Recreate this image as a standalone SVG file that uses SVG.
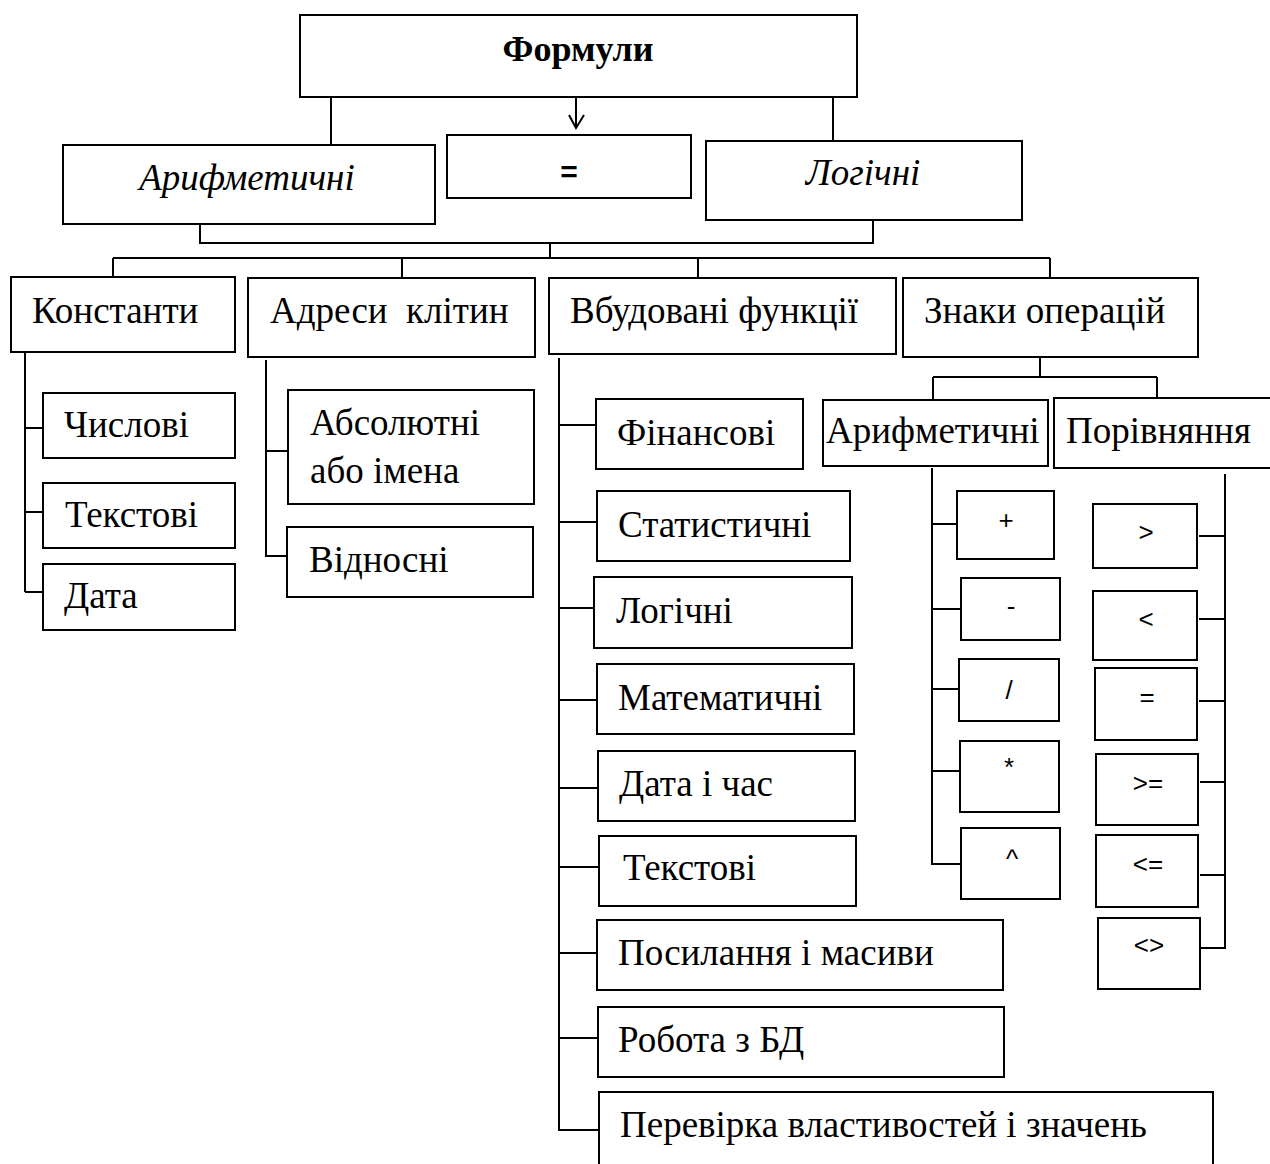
<svg xmlns="http://www.w3.org/2000/svg" width="1270" height="1164" viewBox="0 0 1270 1164">
<style>
rect{fill:#fff;stroke:#000;stroke-width:2}
.c line,.c polyline,.c path{stroke:#000;stroke-width:2;fill:none}
.t{font-family:"Liberation Serif","Times New Roman",serif;font-size:37px;fill:#000}
.i{font-family:"Liberation Serif","Times New Roman",serif;font-size:37px;font-style:italic;fill:#000}
.b{font-family:"Liberation Serif","Times New Roman",serif;font-size:36px;font-weight:bold;fill:#000}
.o{font-family:"Liberation Sans",Arial,sans-serif;font-size:26px;fill:#000;text-anchor:middle}
</style>
<rect x="0" y="0" width="1270" height="1164" style="fill:#fff;stroke:none"/>
<g class="c" id="connectors">
<line x1="331" y1="97" x2="331" y2="145"/>
<line x1="833" y1="97" x2="833" y2="141"/>
<line x1="576" y1="97" x2="576" y2="128"/>
<polyline points="569,115 576,128 584,115"/>
<polyline points="200,224 200,243 873,243 873,220"/>
<line x1="550" y1="243" x2="550" y2="258"/>
<line x1="113" y1="258" x2="1050" y2="258"/>
<line x1="113" y1="258" x2="113" y2="277"/>
<line x1="402" y1="258" x2="402" y2="278"/>
<line x1="698" y1="258" x2="698" y2="278"/>
<line x1="1050" y1="258" x2="1050" y2="278"/>
<line x1="25" y1="352" x2="25" y2="592"/>
<line x1="25" y1="428" x2="43" y2="428"/>
<line x1="25" y1="512" x2="43" y2="512"/>
<line x1="25" y1="592" x2="43" y2="592"/>
<polyline points="266,360 266,556 288,556"/>
<line x1="266" y1="451" x2="288" y2="451"/>
<polyline points="559,358 559,1130 599,1130"/>
<line x1="559" y1="425" x2="596" y2="425"/>
<line x1="559" y1="522" x2="597" y2="522"/>
<line x1="559" y1="608" x2="594" y2="608"/>
<line x1="559" y1="700" x2="597" y2="700"/>
<line x1="559" y1="788" x2="598" y2="788"/>
<line x1="559" y1="867" x2="599" y2="867"/>
<line x1="559" y1="953" x2="597" y2="953"/>
<line x1="559" y1="1038" x2="598" y2="1038"/>
<line x1="1040" y1="357" x2="1040" y2="377"/>
<line x1="933" y1="377" x2="1157" y2="377"/>
<line x1="933" y1="377" x2="933" y2="400"/>
<line x1="1157" y1="377" x2="1157" y2="398"/>
<polyline points="932,468 932,864 961,864"/>
<line x1="932" y1="524" x2="957" y2="524"/>
<line x1="932" y1="609" x2="961" y2="609"/>
<line x1="932" y1="689" x2="959" y2="689"/>
<line x1="932" y1="771" x2="960" y2="771"/>
<polyline points="1225,474 1225,948 1200,948"/>
<line x1="1199" y1="536" x2="1225" y2="536"/>
<line x1="1199" y1="619" x2="1225" y2="619"/>
<line x1="1199" y1="701" x2="1225" y2="701"/>
<line x1="1200" y1="782" x2="1225" y2="782"/>
<line x1="1200" y1="875" x2="1225" y2="875"/>
</g>
<g id="n-formuly"><rect x="300" y="15" width="557" height="82"/><text class="b" x="578" y="61" text-anchor="middle">Формули</text></g>
<g id="n-arith-top"><rect x="63" y="145" width="372" height="79"/><text class="i" x="247" y="190" text-anchor="middle">Арифметичні</text></g>
<g id="n-eq"><rect x="447" y="135" width="244" height="63"/><text x="569" y="182" style="font-family:'Liberation Sans',Arial,sans-serif;font-size:30px;font-weight:bold" text-anchor="middle">=</text></g>
<g id="n-log-top"><rect x="706" y="141" width="316" height="79"/><text class="i" x="863" y="185" text-anchor="middle">Логічні</text></g>
<g id="n-const"><rect x="11" y="277" width="224" height="75"/><text class="t" x="32" y="323">Константи</text></g>
<g id="n-addr"><rect x="248" y="278" width="287" height="79"/><text class="t" x="270" y="323" xml:space="preserve">Адреси  клітин</text></g>
<g id="n-func"><rect x="549" y="278" width="347" height="76"/><text class="t" x="570" y="323">Вбудовані функції</text></g>
<g id="n-ops"><rect x="903" y="278" width="295" height="79"/><text class="t" x="924" y="323">Знаки операцій</text></g>
<g id="n-num"><rect x="43" y="393" width="192" height="65"/><text class="t" x="64" y="437">Числові</text></g>
<g id="n-text1"><rect x="43" y="483" width="192" height="65"/><text class="t" x="65" y="527">Текстові</text></g>
<g id="n-date"><rect x="43" y="564" width="192" height="66"/><text class="t" x="64" y="608">Дата</text></g>
<g id="n-abs"><rect x="288" y="390" width="246" height="114"/><text class="t" x="310" y="435">Абсолютні</text><text class="t" x="310" y="483">або імена</text></g>
<g id="n-rel"><rect x="287" y="527" width="246" height="70"/><text class="t" x="309" y="572">Відносні</text></g>
<g id="n-fin"><rect x="596" y="399" width="207" height="70"/><text class="t" x="617" y="445">Фінансові</text></g>
<g id="n-stat"><rect x="597" y="491" width="253" height="70"/><text class="t" x="618" y="537">Статистичні</text></g>
<g id="n-logf"><rect x="594" y="577" width="258" height="71"/><text class="t" x="616" y="623">Логічні</text></g>
<g id="n-math"><rect x="597" y="664" width="257" height="70"/><text class="t" x="618" y="710">Математичні</text></g>
<g id="n-dt"><rect x="598" y="751" width="257" height="70"/><text class="t" x="619" y="796">Дата і час</text></g>
<g id="n-textf"><rect x="599" y="836" width="257" height="70"/><text class="t" x="623" y="880">Текстові</text></g>
<g id="n-ref"><rect x="597" y="920" width="406" height="70"/><text class="t" x="618" y="965">Посилання і масиви</text></g>
<g id="n-db"><rect x="598" y="1007" width="406" height="70"/><text class="t" x="618" y="1052">Робота з БД</text></g>
<g id="n-check"><rect x="599" y="1092" width="614" height="90"/><text class="t" x="620" y="1137">Перевірка властивостей і значень</text></g>
<g id="n-arith-op"><rect x="823" y="400" width="225" height="66"/><text class="t" x="826" y="443">Арифметичні</text></g>
<g id="n-cmp"><rect x="1054" y="398" width="220" height="70"/><text class="t" x="1066" y="443">Порівняння</text></g>
<g id="n-plus"><rect x="957" y="491" width="97" height="68"/><text class="o" x="1006" y="529">+</text></g>
<g id="n-minus"><rect x="961" y="578" width="99" height="62"/><text class="o" x="1011" y="615">-</text></g>
<g id="n-div"><rect x="959" y="659" width="100" height="62"/><text class="o" x="1009" y="699">/</text></g>
<g id="n-mul"><rect x="960" y="741" width="99" height="71"/><text class="o" x="1009" y="776">*</text></g>
<g id="n-pow"><rect x="961" y="828" width="99" height="71"/><text class="o" x="1012" y="868">^</text></g>
<g id="n-gt"><rect x="1093" y="504" width="104" height="64"/><text class="o" x="1146" y="541">&gt;</text></g>
<g id="n-lt"><rect x="1093" y="591" width="104" height="69"/><text class="o" x="1146" y="628">&lt;</text></g>
<g id="n-eq2"><rect x="1095" y="668" width="102" height="72"/><text class="o" x="1147" y="706">=</text></g>
<g id="n-ge"><rect x="1096" y="754" width="102" height="71"/><text class="o" x="1148" y="792">&gt;=</text></g>
<g id="n-le"><rect x="1096" y="835" width="102" height="72"/><text class="o" x="1148" y="873">&lt;=</text></g>
<g id="n-ne"><rect x="1098" y="918" width="102" height="71"/><text class="o" x="1149" y="954">&lt;&gt;</text></g>
</svg>
